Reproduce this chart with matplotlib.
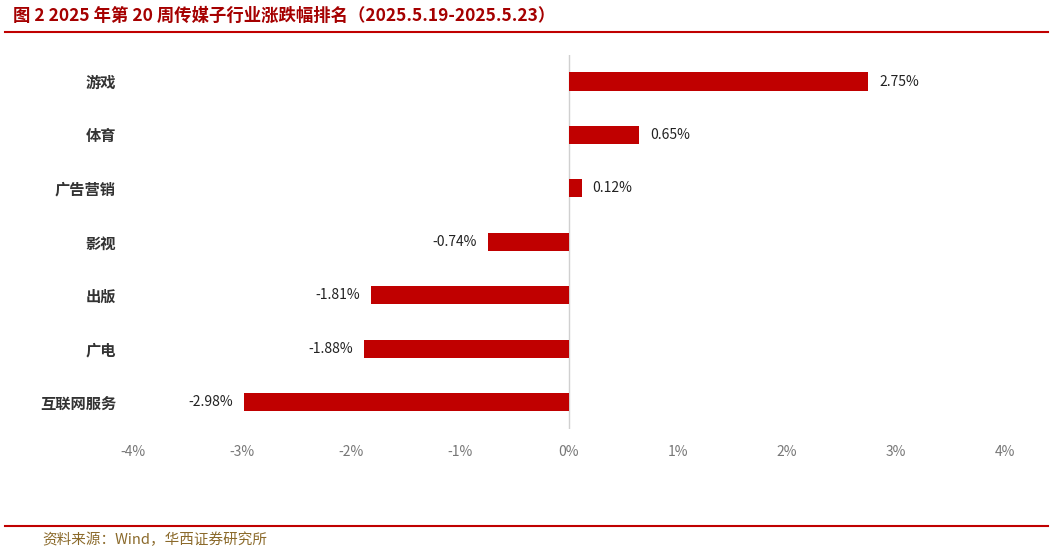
import matplotlib
matplotlib.use("Agg")
import matplotlib.pyplot as plt

plt.rcParams["font.family"] = ["Noto Sans CJK SC", "DejaVu Sans"]

categories = ["游戏", "体育", "广告营销", "影视", "出版", "广电", "互联网服务"]
values = [2.75, 0.65, 0.12, -0.74, -1.81, -1.88, -2.98]
xticks = [-4, -3, -2, -1, 0, 1, 2, 3, 4]

RED = "#C00000"
TITLE_RED = "#A50000"

fig = plt.figure(figsize=(10.53, 5.54), dpi=100)
ax = fig.add_axes([0.126, 0.226, 0.828, 0.675])

y = list(range(len(categories)))
ax.barh(y, values, height=0.34, color=RED, zorder=2)
for yi, v in zip(y, values):
    if v >= 0:
        ax.text(v + 0.1, yi, f"{v:.2f}%", va="center", ha="left", fontsize=10, color="#222222")
    else:
        ax.text(v - 0.1, yi, f"{v:.2f}%", va="center", ha="right", fontsize=10, color="#222222")

ax.set_yticks(y)
ax.set_yticklabels(categories, fontsize=11, fontweight="bold", color="#333333")
ax.set_ylim(len(categories) - 0.5, -0.5)
ax.set_xlim(-4, 4)
ax.set_xticks(xticks)
ax.set_xticklabels([f"{t}%" for t in xticks], fontsize=10, color="#777777")
ax.tick_params(axis="y", length=0, pad=12)
ax.tick_params(axis="x", length=0, pad=12)
for s in ax.spines.values():
    s.set_visible(False)
ax.axvline(0, color="#d0d0d0", linewidth=1, zorder=1)

fig.text(0.012, 0.972, "图 2 2025 年第 20 周传媒子行业涨跌幅排名（2025.5.19-2025.5.23）",
         fontsize=12.5, fontweight="bold", color=TITLE_RED, va="center", ha="left")
fig.add_artist(plt.Line2D([0.005, 0.995], [0.942, 0.942], color=RED, linewidth=1.5))
fig.add_artist(plt.Line2D([0.005, 0.995], [0.051, 0.051], color=RED, linewidth=1.5))
fig.text(0.04, 0.025, "资料来源：Wind，华西证券研究所", fontsize=10.5, color="#8B6A2B",
         va="center", ha="left")

fig.savefig("out.png", dpi=100, facecolor="white")
